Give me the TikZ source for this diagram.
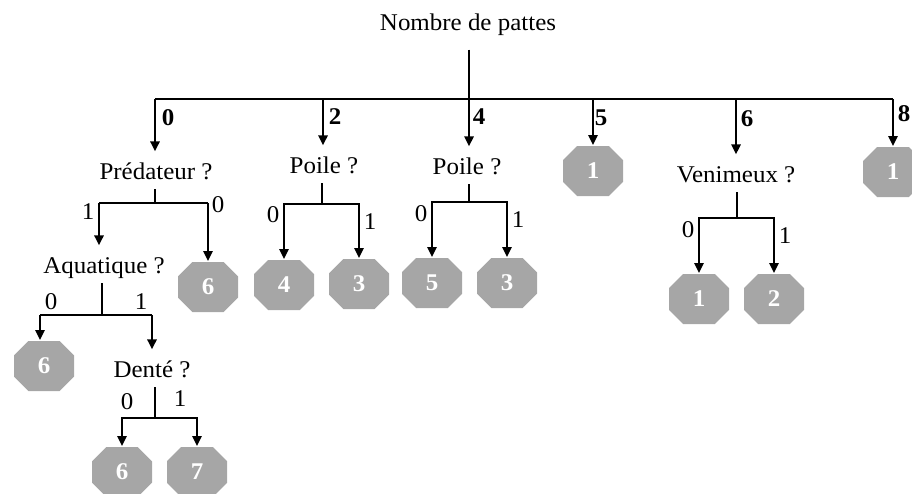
\documentclass[tikz,border=0pt]{standalone}
\usepackage{fontspec}
\setmainfont{Liberation Serif}[FakeStretch=1.04]
\usetikzlibrary{arrows.meta,shapes.misc}
\definecolor{gris}{HTML}{A6A6A6}
\newcommand{\taille}{\fontsize{18}{21}\selectfont}

\begin{document}
\begin{tikzpicture}[x=0.75pt,y=-0.75pt,line width=1.5pt,
    >={Triangle[length=7.5pt,width=7pt]},
    question/.style={font=\taille,inner sep=0pt,text height=20pt,text depth=7pt,anchor=base},
    feuille/.style={chamfered rectangle,chamfered rectangle sep=9pt,fill=gris,draw=none,
      text=white,font=\taille\bfseries,minimum width=45pt,minimum height=37.5pt,inner sep=0pt},
    choix/.style={font=\taille,inner sep=0pt},
    pattes/.style={font=\taille\bfseries,inner sep=0pt}]
    \useasboundingbox (0,0) rectangle (912,493);

    % racine et premier niveau
    \node[question] (racine) at (468,30) {Nombre de pattes};
    \coordinate (tronc) at (469,99);
    \coordinate (p0) at (155,99);
    \coordinate (p2) at (323,99);
    \coordinate (p5) at (593,99);
    \coordinate (p6) at (736,99);
    \coordinate (p8) at (893,99);
    \draw[shorten <=7pt] (tronc |- racine.south) -- (tronc);
    \draw (p0) -- (p8);

    \node[question] (pred) at (156,179) {Prédateur ?};
    \node[question] (poile2) at (324,173) {Poile ?};
    \node[question] (poile4) at (467,174) {Poile ?};
    \node[feuille] (f5) at (593,171) {1};
    \node[question] (venin) at (736,182) {Venimeux ?};
    \node[feuille] (f8) at (893,172) {1};

    \draw[->] (p0) -- (p0 |- pred.north);
    \draw[->] (p2) -- (p2 |- poile2.north);
    \draw[->] (tronc) -- (tronc |- poile4.north);
    \draw[->] (p5) -- (f5.north);
    \draw[->] (p6) -- (p6 |- venin.north);
    \draw[->] (p8) -- (f8.north);

    \node[pattes] (n0) at (168,118) {0};
    \node[pattes] (n2) at (335,117) {2};
    \node[pattes] (n4) at (479,117) {4};
    \node[pattes] (n5) at (601,118) {5};
    \node[pattes] (n6) at (747,119) {6};
    \node[pattes] (n8) at (904,114) {8};

    % Prédateur ?
    \coordinate (jpred) at (155,203);
    \coordinate (pred1) at (99,203);
    \coordinate (pred0) at (208,203);
    \node[question] (aqua) at (104,273) {Aquatique ?};
    \node[feuille] (fpred) at (208,287) {6};
    \draw (jpred |- pred.south) -- (jpred);
    \draw (pred1) -- (pred0);
    \draw[->] (pred1) -- (pred1 |- aqua.north);
    \draw[->] (pred0) -- (fpred.north);
    \node[choix] (lpred1) at (88,212) {1};
    \node[choix] (lpred0) at (218,205) {0};

    % Poile ? (2 pattes)
    \coordinate (jpa) at (322,204);
    \node[feuille] (fpa0) at (284,285) {4};
    \node[feuille] (fpa1) at (359,284) {3};
    \draw (jpa |- poile2.south) -- (jpa);
    \draw[->] (jpa) -| (fpa0.north);
    \draw[->] (jpa) -| (fpa1.north);
    \node[choix] (lpa0) at (273,215) {0};
    \node[choix] (lpa1) at (370,222) {1};

    % Poile ? (4 pattes)
    \coordinate (jpb) at (469,202);
    \node[feuille] (fpb0) at (432,283) {5};
    \node[feuille] (fpb1) at (507,283) {3};
    \draw (jpb |- poile4.south) -- (jpb);
    \draw[->] (jpb) -| (fpb0.north);
    \draw[->] (jpb) -| (fpb1.north);
    \node[choix] (lpb0) at (421,214) {0};
    \node[choix] (lpb1) at (518,220) {1};

    % Venimeux ?
    \coordinate (jven) at (737,218);
    \node[feuille] (fven0) at (699,299) {1};
    \node[feuille] (fven1) at (774,299) {2};
    \draw (jven |- venin.south) -- (jven);
    \draw[->] (jven) -| (fven0.north);
    \draw[->] (jven) -| (fven1.north);
    \node[choix] (lven0) at (688,230) {0};
    \node[choix] (lven1) at (785,236) {1};

    % Aquatique ?
    \coordinate (jaqua) at (102,315);
    \coordinate (aqua0) at (40,315);
    \coordinate (aqua1) at (152,315);
    \node[feuille] (faqua) at (44,366) {6};
    \node[question] (dente) at (152,377) {Denté ?};
    \draw (jaqua |- aqua.south) -- (jaqua);
    \draw (aqua0) -- (aqua1);
    \draw[->] (aqua0) -- (aqua0 |- faqua.north);
    \draw[->] (aqua1) -- (aqua1 |- dente.north);
    \node[choix] (laqua0) at (51,302) {0};
    \node[choix] (laqua1) at (141,302) {1};

    % Denté ?
    \coordinate (jdente) at (155,418);
    \node[feuille] (fden0) at (122,472) {6};
    \node[feuille] (fden1) at (197,472) {7};
    \draw (jdente |- dente.south) -- (jdente);
    \draw[->] (jdente) -| (fden0.north);
    \draw[->] (jdente) -| (fden1.north);
    \node[choix] (lden0) at (127,402) {0};
    \node[choix] (lden1) at (180,399) {1};
\end{tikzpicture}
\end{document}
